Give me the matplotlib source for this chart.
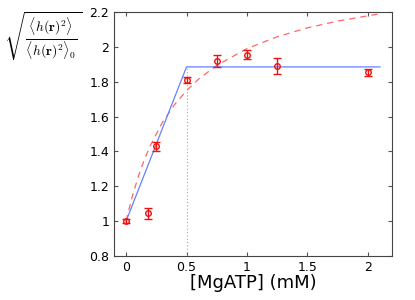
import matplotlib
matplotlib.use("Agg")
import matplotlib.pyplot as plt

plt.rcParams['mathtext.fontset'] = 'cm'
plt.rcParams['font.family'] = ['DejaVu Sans']

# data points
conc = [0.0, 0.18, 0.25, 0.5, 0.75, 1.0, 1.25, 2.0]
ratio = [1.0, 1.045, 1.43, 1.81, 1.92, 1.955, 1.89, 1.855]
err = [0.01, 0.03, 0.025, 0.015, 0.035, 0.025, 0.045, 0.02]

# piecewise linear fit (blue)
lin_x = [0.0, 0.5, 2.1]
lin_y = [1.0, 1.885, 1.885]

# hyperbolic fit (red dashed)
fit_x = [0.0, 0.05, 0.1, 0.15, 0.2, 0.3, 0.4, 0.5, 0.6, 0.75, 1.0, 1.25, 1.5, 1.75, 2.1]
fit_y = [1.0, 1.139, 1.254, 1.351, 1.433, 1.566, 1.668, 1.749, 1.815, 1.894, 1.990, 2.058, 2.109, 2.148, 2.190]

xticks = [0, 0.5, 1, 1.5, 2]
xticklabels = ['0', '0.5', '1', '1.5', '2']
yticks = [0.8, 1.0, 1.2, 1.4, 1.6, 1.8, 2.0, 2.2]
yticklabels = ['0.8', '1', '1.2', '1.4', '1.6', '1.8', '2', '2.2']

fig = plt.figure(figsize=(4.15, 3.0), dpi=100)
ax = fig.add_axes([0.2747, 0.1467, 0.67, 0.8133])

ax.plot([0.5, 0.5], [0.8, 1.885], linestyle=(0, (1, 2)), color='#aaaaaa', lw=0.8)
ax.plot(fit_x, fit_y, linestyle=(0, (5, 4)), color='#ff6666', lw=0.9)
ax.plot(lin_x, lin_y, color='#6680ff', lw=0.9)
ax.errorbar(conc, ratio, yerr=err, fmt='o', color='#ee1111', mfc='none',
            ms=4, mew=1.0, elinewidth=1.0, capsize=3, capthick=1.0)

ax.set_xlim(-0.1, 2.2)
ax.set_ylim(0.8, 2.2)
ax.set_xticks(xticks)
ax.set_xticklabels(xticklabels)
ax.set_yticks(yticks)
ax.set_yticklabels(yticklabels)
ax.tick_params(direction='in', top=True, right=True, labelsize=9, length=3, color='#555555')
for s in ax.spines.values():
    s.set_linewidth(0.8)
    s.set_color('#444444')

ax.set_xlabel('[MgATP] (mM)', fontsize=13, labelpad=0)
fig.text(0.01, 0.88, r'$\sqrt{\frac{\langle h(\mathbf{r})^2\rangle}{\langle h(\mathbf{r})^2\rangle_0}}$',
         fontsize=14, ha='left', va='center')

fig.savefig('out.png', dpi=100)
